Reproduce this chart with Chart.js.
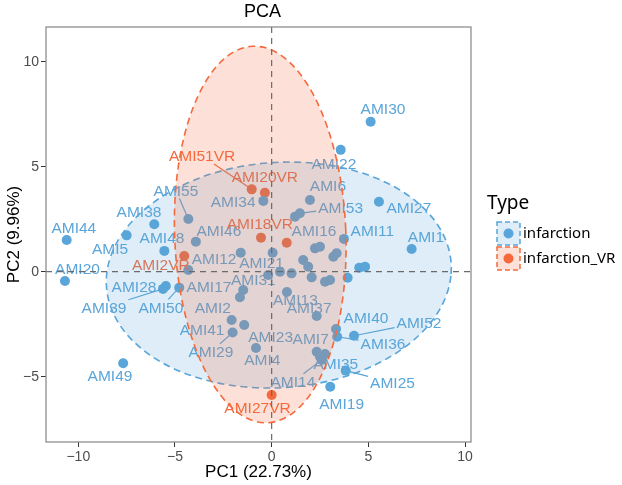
<!DOCTYPE html>
<html>
<head>
<meta charset="utf-8">
<script src="https://cdn.jsdelivr.net/npm/chart.js@4.4.1/dist/chart.umd.min.js"></script>
<style>
  html, body { margin: 0; padding: 0; background: #fff; }
  canvas { display: block; }
</style>
</head>
<body>
<canvas id="pcaChart" width="622" height="485"></canvas>
<script>
// ---------------------------------------------------------------------------
// Data
// ---------------------------------------------------------------------------
const infarctionNames = ['AMI1','AMI2','AMI3','AMI4','AMI5','AMI6','AMI7','AMI8','AMI9','AMI10',
  'AMI11','AMI12','AMI13','AMI14','AMI15','AMI16','AMI17','AMI18','AMI19','AMI20',
  'AMI21','AMI22','AMI23','AMI24','AMI25','AMI26','AMI27','AMI28','AMI29','AMI30',
  'AMI31','AMI32','AMI33','AMI34','AMI35','AMI36','AMI37','AMI38','AMI39','AMI40',
  'AMI41','AMI42','AMI43','AMI44','AMI45','AMI46','AMI47','AMI48','AMI49','AMI50',
  'AMI51','AMI52','AMI53','AMI54','AMI55'];
const infarctionPC1 = [7.24,-1.64,0.43,-0.81,-7.50,1.98,2.33,1.03,1.63,1.89,
  3.74,-1.60,0.79,2.59,2.07,2.24,-4.31,2.50,3.03,-10.69,
  0.05,3.57,-1.42,3.19,3.83,3.36,5.55,-5.47,-2.02,5.12,
  -0.18,2.76,3.02,-0.43,2.76,3.39,2.33,-6.07,-5.62,3.33,
  -2.07,4.53,4.83,-10.60,3.93,-3.92,2.50,-5.55,-7.68,-4.78,
  1.21,4.26,1.46,-1.47,-4.31];
const infarctionPC2 = [1.08,-1.22,0.00,-3.63,1.73,3.41,-3.81,-0.08,0.56,0.24,
  1.56,0.90,-0.97,-4.20,-0.27,1.11,0.08,1.19,-5.48,-0.44,
  0.90,5.80,-2.54,0.71,-4.71,0.88,3.33,-0.68,-2.90,7.14,
  -0.16,-0.48,-0.40,3.37,-3.92,-3.10,-2.11,2.26,-0.82,-2.73,
  -2.30,0.19,0.24,1.51,-0.29,1.43,-4.05,0.99,-4.36,-0.76,
  2.62,-3.05,2.78,-0.87,2.51];
// repelled label positions (null = label dropped by the repel step)
const infarctionLabelPC1 = [7.98,-3.04,null,-0.48,-8.36,2.91,2.02,null,null,null,
  5.21,-2.98,1.23,1.10,null,2.19,-3.24,null,3.62,-10.04,
  -0.52,3.22,-0.05,null,6.25,null,7.10,-7.12,-3.14,5.76,
  -0.95,null,null,-1.99,3.32,5.76,1.94,-6.86,-8.67,4.88,
  -3.60,null,null,-10.23,null,-2.73,null,-5.67,-8.36,-5.73,
  null,7.62,3.57,null,-4.95];
const infarctionLabelPC2 = [1.67,-1.70,null,-4.20,1.07,4.10,-3.17,null,null,null,
  1.95,0.64,-1.35,-5.24,null,1.95,-0.74,null,-6.27,0.13,
  0.41,5.13,-3.10,null,-5.29,null,3.03,-0.74,-3.81,7.75,
  -0.40,null,null,3.33,-4.39,-3.44,-1.74,2.86,-1.70,-2.17,
  -2.78,null,null,2.11,null,1.95,null,1.64,-4.97,-1.70,
  null,-2.43,3.03,null,3.86];

const vrNames = ['AMI2VR','AMI16VR','AMI18VR','AMI20VR','AMI27VR','AMI51VR'];
const vrPC1 = [-4.52,0.78,-0.55,-0.35,0.00,-1.03];
const vrPC2 = [0.75,1.38,1.62,3.76,-5.87,3.92];
const vrLabelPC1 = [-5.73,null,-0.61,-0.35,-0.73,-3.60];
const vrLabelPC2 = [0.35,null,2.30,4.52,-6.50,5.51];

// labels that got a leader segment in the repel layout
const segmentLabels = ['AMI55','AMI39','AMI50','AMI29','AMI14','AMI25','AMI36','AMI52','AMI53','AMI51VR'];

// 95% ellipses: centre and two conjugate half-axes, in PC units
const infarctionEllipseCenter = [0.37, -0.16];
const infarctionEllipseAxes = [[8.91, 0.05], [0.45, 5.38]];
const vrEllipseCenter = [-0.59, 1.77];
const vrEllipseAxes = [[4.42, 0.25], [-0.42, 8.96]];

const xTickValues = [-10, -5, 0, 5, 10];
const yTickValues = [-5, 0, 5, 10];
const xRange = [-11.67, 10.31];
const yRange = [-8.11, 11.65];

const groupNames = ['infarction', 'infarction_VR'];

// ---------------------------------------------------------------------------
// Styles
// ---------------------------------------------------------------------------
const BLUE = '#5AA5D9';
const ORANGE = '#F56A3C';
const LABEL_FONT = '15.5px "Liberation Sans", Arial, sans-serif';

function withAlpha(hex, a) {
  const n = parseInt(hex.slice(1), 16);
  return `rgba(${(n >> 16) & 255},${(n >> 8) & 255},${n & 255},${a})`;
}

function toPoints(xs, ys) {
  return xs.map((x, i) => ({ x: x, y: ys[i] }));
}

// ---------------------------------------------------------------------------
// Plugin: labels, ellipses, reference lines, panel border, titles, legend
// ---------------------------------------------------------------------------
function drawEllipse(ctx, xs, ys, center, axes, color) {
  const cx = xs.getPixelForValue(center[0]);
  const cy = ys.getPixelForValue(center[1]);
  const ax = xs.getPixelForValue(center[0] + axes[0][0]) - cx;
  const ay = ys.getPixelForValue(center[1] + axes[0][1]) - cy;
  const bx = xs.getPixelForValue(center[0] + axes[1][0]) - cx;
  const by = ys.getPixelForValue(center[1] + axes[1][1]) - cy;
  ctx.save();
  ctx.beginPath();
  ctx.save();
  ctx.transform(ax, ay, bx, by, cx, cy);
  ctx.arc(0, 0, 1, 0, Math.PI * 2);
  ctx.restore();
  ctx.closePath();
  ctx.fillStyle = withAlpha(color, 0.2);
  ctx.fill();
  ctx.setLineDash([7, 4.5]);
  ctx.lineWidth = 1.6;
  ctx.strokeStyle = color;
  ctx.stroke();
  ctx.restore();
}

function drawLabels(ctx, xs, ys, names, px, py, lx, ly, color) {
  ctx.save();
  ctx.font = LABEL_FONT;
  ctx.textAlign = 'center';
  ctx.textBaseline = 'middle';
  ctx.fillStyle = color;
  ctx.strokeStyle = color;
  ctx.lineWidth = 1.2;
  names.forEach((name, i) => {
    if (lx[i] === null) return;
    const tx = xs.getPixelForValue(lx[i]);
    const ty = ys.getPixelForValue(ly[i]);
    if (segmentLabels.includes(name)) {
      const ptx = xs.getPixelForValue(px[i]);
      const pty = ys.getPixelForValue(py[i]);
      const hw = ctx.measureText(name).width / 2 + 2;
      const hh = 8;
      const dx = ptx - tx, dy = pty - ty;
      const s = Math.min(dx !== 0 ? hw / Math.abs(dx) : Infinity, dy !== 0 ? hh / Math.abs(dy) : Infinity);
      if (s < 1) {
        ctx.beginPath();
        ctx.moveTo(tx + dx * s, ty + dy * s);
        ctx.lineTo(ptx, pty);
        ctx.stroke();
      }
    }
    ctx.fillText(name, tx, ty + 1);
  });
  ctx.restore();
}

const pcaDecor = {
  id: 'pcaDecor',
  afterDatasetsDraw(chart) {
    const ctx = chart.ctx;
    const xs = chart.scales.x, ys = chart.scales.y;
    const area = chart.chartArea;

    drawLabels(ctx, xs, ys, infarctionNames, infarctionPC1, infarctionPC2, infarctionLabelPC1, infarctionLabelPC2, BLUE);
    drawLabels(ctx, xs, ys, vrNames, vrPC1, vrPC2, vrLabelPC1, vrLabelPC2, ORANGE);

    ctx.save();
    ctx.beginPath();
    ctx.rect(area.left, area.top, area.right - area.left, area.bottom - area.top);
    ctx.clip();
    drawEllipse(ctx, xs, ys, infarctionEllipseCenter, infarctionEllipseAxes, BLUE);
    drawEllipse(ctx, xs, ys, vrEllipseCenter, vrEllipseAxes, ORANGE);

    // zero reference lines
    const x0 = xs.getPixelForValue(0), y0 = ys.getPixelForValue(0);
    ctx.setLineDash([6, 5]);
    ctx.lineWidth = 1.2;
    ctx.strokeStyle = '#6b6b6b';
    ctx.beginPath();
    ctx.moveTo(x0, area.top); ctx.lineTo(x0, area.bottom);
    ctx.moveTo(area.left, y0); ctx.lineTo(area.right, y0);
    ctx.stroke();
    ctx.restore();

    // panel border
    ctx.save();
    ctx.strokeStyle = '#858585';
    ctx.lineWidth = 1.2;
    ctx.strokeRect(area.left, area.top, area.right - area.left, area.bottom - area.top);
    ctx.restore();
  },
  afterDraw(chart) {
    const ctx = chart.ctx;
    const area = chart.chartArea;
    const midX = (area.left + area.right) / 2;
    const midY = (area.top + area.bottom) / 2;

    ctx.save();
    ctx.fillStyle = '#000';
    ctx.textAlign = 'center';
    ctx.textBaseline = 'middle';
    ctx.font = '18px "Liberation Sans", Arial, sans-serif';
    ctx.fillText('PCA', midX + 4, 12);

    ctx.font = '17px "Liberation Sans", Arial, sans-serif';
    ctx.fillText('PC1 (22.73%)', midX, 472);
    ctx.save();
    ctx.translate(14, midY);
    ctx.rotate(-Math.PI / 2);
    ctx.fillText('PC2 (9.96%)', 0, 0);
    ctx.restore();

    // legend
    ctx.textAlign = 'left';
    ctx.font = '19px "Noto Sans", sans-serif';
    ctx.fillText('Type', 487, 204);
    const colors = [BLUE, ORANGE];
    groupNames.forEach((g, i) => {
      const top = 222 + i * 25;
      ctx.fillStyle = withAlpha(colors[i], 0.2);
      ctx.fillRect(497, top, 23, 23);
      ctx.setLineDash([5, 3]);
      ctx.lineWidth = 1.5;
      ctx.strokeStyle = colors[i];
      ctx.strokeRect(497, top, 23, 23);
      ctx.setLineDash([]);
      ctx.fillStyle = colors[i];
      ctx.beginPath();
      ctx.arc(508.5, top + 11.5, 5, 0, Math.PI * 2);
      ctx.fill();
      ctx.fillStyle = '#000';
      ctx.font = '15px "Noto Sans", sans-serif';
      ctx.fillText(g, 523, top + 11.5);
    });
    ctx.restore();
  }
};

// ---------------------------------------------------------------------------
// Chart
// ---------------------------------------------------------------------------
const minus = v => String(v).replace('-', '\u2212');
const tickFont = { family: '"Liberation Sans", Arial, sans-serif', size: 14 };

new Chart(document.getElementById('pcaChart'), {
  type: 'scatter',
  data: {
    datasets: [
      { label: groupNames[0], data: toPoints(infarctionPC1, infarctionPC2), backgroundColor: BLUE, borderWidth: 0, pointRadius: 5 },
      { label: groupNames[1], data: toPoints(vrPC1, vrPC2), backgroundColor: ORANGE, borderWidth: 0, pointRadius: 5 }
    ]
  },
  options: {
    responsive: false,
    animation: false,
    devicePixelRatio: 1,
    events: [],
    layout: { padding: { top: 27, right: 151, left: 0, bottom: 0 } },
    plugins: { legend: { display: false }, tooltip: { enabled: false }, title: { display: false } },
    scales: {
      x: {
        type: 'linear',
        min: xRange[0], max: xRange[1],
        afterFit: s => { s.height = 43; },
        afterBuildTicks: s => { s.ticks = xTickValues.map(v => ({ value: v })); },
        grid: { drawOnChartArea: false, drawTicks: true, tickLength: 5, color: '#333', lineWidth: 1 },
        border: { display: false },
        ticks: { color: '#4D4D4D', font: tickFont, padding: 2, maxRotation: 0, autoSkip: false, callback: minus }
      },
      y: {
        type: 'linear',
        min: yRange[0], max: yRange[1],
        afterFit: s => { s.width = 46; },
        afterBuildTicks: s => { s.ticks = yTickValues.map(v => ({ value: v })); },
        grid: { drawOnChartArea: false, drawTicks: true, tickLength: 5, color: '#333', lineWidth: 1 },
        border: { display: false },
        ticks: { color: '#4D4D4D', font: tickFont, padding: 2, autoSkip: false, callback: minus }
      }
    }
  },
  plugins: [pcaDecor]
});
</script>
</body>
</html>
